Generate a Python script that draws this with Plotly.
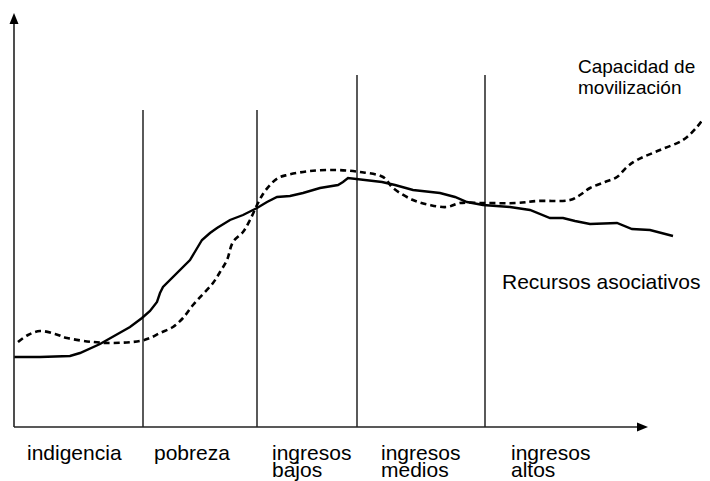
import plotly.graph_objects as go

# --- data (arbitrary units; origin at axis corner) ---
recursos_x = [0, 26, 56, 66, 86, 106, 116, 128, 136, 143, 146, 149, 156, 163, 171, 176, 182, 188, 196, 203,
              216, 229, 243, 253, 263, 276, 289, 306, 324, 329, 334, 349, 368, 381, 399, 426, 441, 453, 469,
              496, 516, 536, 549, 561, 576, 603, 618, 636, 659]
recursos_y = [70, 70, 71, 74, 83, 94, 100, 109, 116, 125, 134, 140, 147, 154, 162, 167, 177, 187, 194, 199,
              207, 212, 219, 225, 230, 231, 234, 239, 242, 245, 249, 247, 245, 242, 237, 234, 230, 225, 222,
              220, 217, 209, 209, 206, 203, 204, 198, 197, 191]

capacidad_x = [4, 14, 26, 41, 53, 79, 99, 126, 136, 146, 159, 169, 179, 189, 199, 206, 213, 219, 229, 236,
               243, 249, 256, 264, 273, 296, 323, 346, 369, 379, 399, 416, 433, 446, 469, 503, 523, 556, 566,
               576, 591, 603, 613, 623, 646, 669, 683, 693]
capacidad_y = [85, 92, 96, 93, 89, 85, 84, 86, 89, 94, 100, 109, 122, 133, 144, 155, 167, 185, 195, 207,
               222, 233, 242, 249, 252, 256, 257, 255, 250, 239, 227, 222, 220, 224, 224, 224, 226, 227, 232,
               239, 245, 250, 260, 267, 277, 287, 300, 314]

divisiones_x = [129, 243, 343, 471]
divisiones_top = [317, 317, 352, 352]

# category labels: first line / second line
categorias_l1 = ["indigencia", "pobreza", "ingresos", "ingresos", "ingresos"]
categorias_l2 = ["", "", "bajos", "medios", "altos"]
categorias_x = [11, 138, 256, 365, 495]

serie_recursos = "Recursos asociativos"
serie_capacidad_l1 = "Capacidad de"
serie_capacidad_l2 = "movilización"

FONT = "Liberation Sans, Arial, sans-serif"
FS = 21

fig = go.Figure()
fig.add_trace(go.Scatter(x=capacidad_x, y=capacidad_y, mode="lines", line_shape="spline",
                         line=dict(color="black", width=2.6, dash="6px,4px"), showlegend=False,
                         hoverinfo="skip"))
fig.add_trace(go.Scatter(x=recursos_x, y=recursos_y, mode="lines",
                         line=dict(color="black", width=2.4), showlegend=False, hoverinfo="skip"))

shapes = []
for xv, top in zip(divisiones_x, divisiones_top):
    shapes.append(dict(type="line", x0=xv, x1=xv, y0=0, y1=top, line=dict(color="black", width=1.3)))
# axes
shapes.append(dict(type="line", x0=0, x1=626, y0=0, y1=0, line=dict(color="#222", width=1.6)))
shapes.append(dict(type="line", x0=0, x1=0, y0=0, y1=404, line=dict(color="#222", width=1.6)))
# arrowheads
shapes.append(dict(type="path", path="M 623,-4.5 L 634,0 L 623,4.5 Z", fillcolor="black", line=dict(width=0)))
shapes.append(dict(type="path", path="M -4.5,403 L 0,414 L 4.5,403 Z", fillcolor="black", line=dict(width=0)))

def txt(x, y, t, size=FS):
    return dict(x=x, y=y, text=t, showarrow=False, xanchor="left", yanchor="middle", align="left",
                font=dict(family=FONT, size=size, color="black"))

annotations = []
for t1, t2, xv in zip(categorias_l1, categorias_l2, categorias_x):
    annotations.append(txt(xv, -25, t1))
    if t2:
        annotations.append(txt(xv, -42, t2))
annotations.append(txt(486, 146, serie_recursos))
annotations.append(txt(562, 361, serie_capacidad_l1, 19))
annotations.append(txt(562, 340, serie_capacidad_l2, 19))

fig.update_layout(
    width=702, height=473,
    margin=dict(l=0, r=0, t=0, b=0),
    paper_bgcolor="white", plot_bgcolor="white",
    xaxis=dict(range=[-6, 696], visible=False, fixedrange=True),
    yaxis=dict(range=[-54, 419], visible=False, fixedrange=True),
    shapes=shapes, annotations=annotations,
)
fig.write_html("out.html", config={"displayModeBar": False})
